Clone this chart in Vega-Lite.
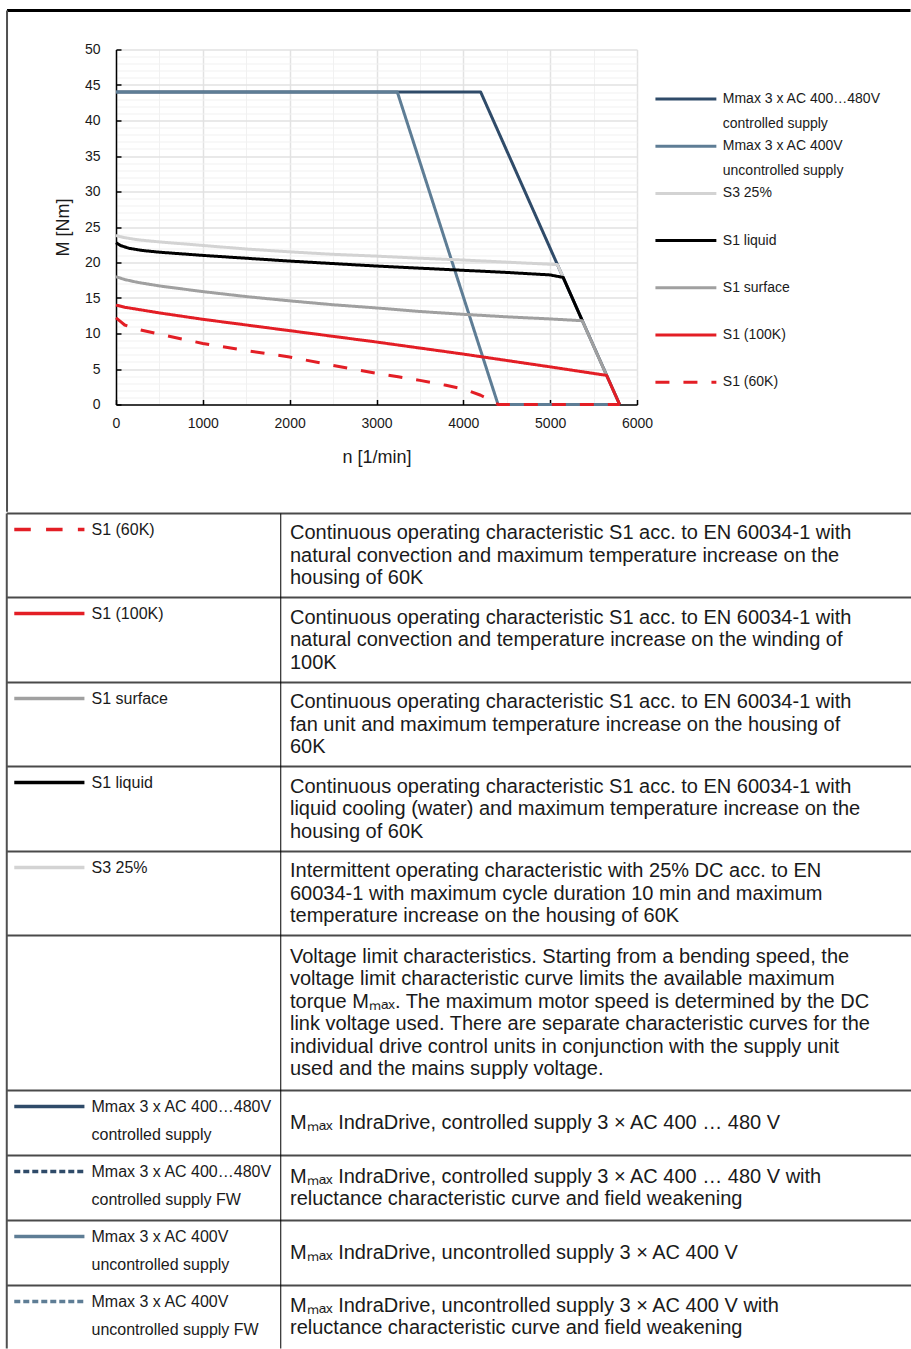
{
  "$schema": "https://vega.github.io/schema/vega-lite/v6.json",
  "padding": {"left": 5, "top": 8.5, "right": 0, "bottom": 0},
  "spacing": -3,
  "config": {
    "font": "Liberation Sans",
    "view": {"stroke": null},
    "style": {"guide-label": {"lineHeight": 25}}
  },
  "resolve": {"scale": {"x": "independent", "y": "independent", "color": "independent", "strokeDash": "independent"}},
  "vconcat": [
    {
      "width": 521,
      "height": 355,
      "data": {"values": [
        {"series": "Mmax 3 x AC 400…480V|controlled supply", "n": 0, "M": 44},
        {"series": "Mmax 3 x AC 400…480V|controlled supply", "n": 4200, "M": 44},
        {"series": "Mmax 3 x AC 400…480V|controlled supply", "n": 5800, "M": 0},
        {"series": "Mmax 3 x AC 400V|uncontrolled supply", "n": 0, "M": 44},
        {"series": "Mmax 3 x AC 400V|uncontrolled supply", "n": 3240, "M": 44},
        {"series": "Mmax 3 x AC 400V|uncontrolled supply", "n": 4400, "M": 0},
        {"series": "Mmax 3 x AC 400V|uncontrolled supply", "n": 5800, "M": 0},
        {"series": "S3 25%", "n": 0, "M": 23.8},
        {"series": "S3 25%", "n": 100, "M": 23.5},
        {"series": "S3 25%", "n": 250, "M": 23.2},
        {"series": "S3 25%", "n": 500, "M": 22.9},
        {"series": "S3 25%", "n": 1000, "M": 22.4},
        {"series": "S3 25%", "n": 1500, "M": 21.9},
        {"series": "S3 25%", "n": 2000, "M": 21.5},
        {"series": "S3 25%", "n": 2500, "M": 21.15},
        {"series": "S3 25%", "n": 3000, "M": 20.9},
        {"series": "S3 25%", "n": 3500, "M": 20.6},
        {"series": "S3 25%", "n": 4000, "M": 20.35},
        {"series": "S3 25%", "n": 4500, "M": 20.05},
        {"series": "S3 25%", "n": 5084, "M": 19.7},
        {"series": "S3 25%", "n": 5150, "M": 17.9},
        {"series": "S1 liquid", "n": 0, "M": 22.8},
        {"series": "S1 liquid", "n": 50, "M": 22.4},
        {"series": "S1 liquid", "n": 150, "M": 22.0},
        {"series": "S1 liquid", "n": 300, "M": 21.7},
        {"series": "S1 liquid", "n": 500, "M": 21.45},
        {"series": "S1 liquid", "n": 1000, "M": 21.0},
        {"series": "S1 liquid", "n": 1500, "M": 20.6},
        {"series": "S1 liquid", "n": 2000, "M": 20.2},
        {"series": "S1 liquid", "n": 2500, "M": 19.85},
        {"series": "S1 liquid", "n": 3000, "M": 19.5},
        {"series": "S1 liquid", "n": 3500, "M": 19.2},
        {"series": "S1 liquid", "n": 4000, "M": 18.9},
        {"series": "S1 liquid", "n": 4500, "M": 18.6},
        {"series": "S1 liquid", "n": 5000, "M": 18.25},
        {"series": "S1 liquid", "n": 5150, "M": 17.9},
        {"series": "S1 liquid", "n": 5370, "M": 11.8},
        {"series": "S1 surface", "n": 0, "M": 18.0},
        {"series": "S1 surface", "n": 100, "M": 17.6},
        {"series": "S1 surface", "n": 250, "M": 17.2},
        {"series": "S1 surface", "n": 500, "M": 16.7},
        {"series": "S1 surface", "n": 1000, "M": 15.9},
        {"series": "S1 surface", "n": 1500, "M": 15.2},
        {"series": "S1 surface", "n": 2000, "M": 14.6},
        {"series": "S1 surface", "n": 2500, "M": 14.05},
        {"series": "S1 surface", "n": 3000, "M": 13.6},
        {"series": "S1 surface", "n": 3500, "M": 13.1},
        {"series": "S1 surface", "n": 4000, "M": 12.7},
        {"series": "S1 surface", "n": 4500, "M": 12.35},
        {"series": "S1 surface", "n": 5000, "M": 12.05},
        {"series": "S1 surface", "n": 5370, "M": 11.8},
        {"series": "S1 surface", "n": 5650, "M": 4.1},
        {"series": "S1 (100K)", "n": 0, "M": 14.0},
        {"series": "S1 (100K)", "n": 100, "M": 13.7},
        {"series": "S1 (100K)", "n": 250, "M": 13.4},
        {"series": "S1 (100K)", "n": 500, "M": 12.9},
        {"series": "S1 (100K)", "n": 1000, "M": 12.0},
        {"series": "S1 (100K)", "n": 1500, "M": 11.2},
        {"series": "S1 (100K)", "n": 2000, "M": 10.4},
        {"series": "S1 (100K)", "n": 2500, "M": 9.6},
        {"series": "S1 (100K)", "n": 3000, "M": 8.8},
        {"series": "S1 (100K)", "n": 3500, "M": 7.95},
        {"series": "S1 (100K)", "n": 4000, "M": 7.1},
        {"series": "S1 (100K)", "n": 4500, "M": 6.2},
        {"series": "S1 (100K)", "n": 5000, "M": 5.3},
        {"series": "S1 (100K)", "n": 5650, "M": 4.1},
        {"series": "S1 (100K)", "n": 5800, "M": 0},
        {"series": "S1 (60K)", "n": 0, "M": 12.2},
        {"series": "S1 (60K)", "n": 50, "M": 11.7},
        {"series": "S1 (60K)", "n": 100, "M": 11.2},
        {"series": "S1 (60K)", "n": 250, "M": 10.6},
        {"series": "S1 (60K)", "n": 500, "M": 9.9},
        {"series": "S1 (60K)", "n": 1000, "M": 8.6},
        {"series": "S1 (60K)", "n": 1500, "M": 7.6},
        {"series": "S1 (60K)", "n": 2000, "M": 6.7},
        {"series": "S1 (60K)", "n": 2500, "M": 5.5},
        {"series": "S1 (60K)", "n": 3000, "M": 4.4},
        {"series": "S1 (60K)", "n": 3250, "M": 3.9},
        {"series": "S1 (60K)", "n": 3500, "M": 3.4},
        {"series": "S1 (60K)", "n": 3800, "M": 2.7},
        {"series": "S1 (60K)", "n": 4000, "M": 2.2},
        {"series": "S1 (60K)", "n": 4200, "M": 1.3},
        {"series": "S1 (60K)", "n": 4300, "M": 0.7},
        {"series": "S1 (60K)", "n": 4400, "M": 0},
        {"series": "S1 (60K)", "n": 5800, "M": 0}
      ]},
      "resolve": {"axis": {"x": "independent", "y": "independent"}},
      "layer": [
        {
          "data": {"values": [{}]},
          "mark": {"type": "rule", "stroke": "#000000", "strokeWidth": 3},
          "encoding": {
            "x": {"datum": -1255, "type": "quantitative",
                  "scale": {"domain": [0, 6000], "nice": false, "zero": false},
                  "axis": {"orient": "bottom", "values": [500, 1500, 2500, 3500, 4500, 5500], "grid": true, "gridColor": "#f1f1f1", "gridWidth": 1, "labels": false, "ticks": false, "domain": false, "title": null}},
            "x2": {"datum": 9150},
            "y": {"datum": 55.5, "type": "quantitative",
                  "scale": {"domain": [0, 50], "nice": false, "zero": false},
                  "axis": {"orient": "left", "values": [1,2,3,4,6,7,8,9,11,12,13,14,16,17,18,19,21,22,23,24,26,27,28,29,31,32,33,34,36,37,38,39,41,42,43,44,46,47,48,49], "grid": true, "gridColor": "#f1f1f1", "gridWidth": 1, "labels": false, "ticks": false, "domain": false, "title": null}}
          }
        },
        {
          "data": {"values": [{}]},
          "mark": {"type": "rule", "stroke": "#505050", "strokeWidth": 2},
          "encoding": {
            "x": {"datum": -1255, "type": "quantitative", "scale": {"domain": [0, 6000], "nice": false, "zero": false}, "axis": null},
            "y": {"datum": 55.5, "type": "quantitative", "scale": {"domain": [0, 50], "nice": false, "zero": false}, "axis": null},
            "y2": {"datum": -15.1}
          }
        },
        {
          "mark": {"type": "line", "strokeWidth": 3, "strokeCap": "butt", "strokeJoin": "round"},
          "encoding": {
            "x": {"field": "n", "type": "quantitative",
                  "scale": {"domain": [0, 6000], "nice": false, "zero": false},
                  "axis": {"orient": "bottom", "values": [0, 1000, 2000, 3000, 4000, 5000, 6000], "format": "d", "labelFlush": false, "grid": true, "gridColor": "#e2e2e2", "gridWidth": 1.5,
                           "domainColor": "#000000", "domainWidth": 1.5, "tickColor": "#000000", "tickSize": -5, "tickWidth": 1.5,
                           "labelFontSize": 14, "labelColor": "#1a1a1a", "labelPadding": 17,
                           "title": "n [1/min]", "titleFontSize": 18, "titleFontWeight": "normal", "titleColor": "#1a1a1a", "titlePadding": 18}},
            "y": {"field": "M", "type": "quantitative",
                  "scale": {"domain": [0, 50], "nice": false, "zero": false},
                  "axis": {"orient": "left", "values": [0, 5, 10, 15, 20, 25, 30, 35, 40, 45, 50], "format": "d", "labelFlush": false, "grid": true, "gridColor": "#e2e2e2", "gridWidth": 1.5,
                           "domainColor": "#000000", "domainWidth": 1.5, "tickColor": "#000000", "tickSize": -5, "tickWidth": 1.5,
                           "labelFontSize": 14, "labelColor": "#1a1a1a", "labelPadding": 21,
                           "title": "M [Nm]", "titleFontSize": 18, "titleFontWeight": "normal", "titleColor": "#1a1a1a", "titlePadding": 12}},
            "color": {"field": "series", "type": "nominal",
                      "scale": {"domain": ["Mmax 3 x AC 400…480V|controlled supply", "Mmax 3 x AC 400V|uncontrolled supply", "S3 25%", "S1 liquid", "S1 surface", "S1 (100K)", "S1 (60K)"],
                                "range": ["#2f4b69", "#5e7d95", "#d3d3d3", "#000000", "#a0a0a0", "#e31e25", "#e31e25"]},
                      "legend": {"orient": "none", "legendX": 560.4, "legendY": 40, "title": null, "padding": 0,
                                 "symbolType": "M-4,0H4", "symbolSize": 232, "symbolStrokeWidth": 3,
                                 "labelFontSize": 14, "labelColor": "#1a1a1a", "labelOffset": 27.4, "labelLimit": 400,
                                 "gridAlign": "all", "rowPadding": 5.2, "labelExpr": "split(datum.label, '|')"}},
            "strokeDash": {"field": "series", "type": "nominal",
                      "scale": {"domain": ["Mmax 3 x AC 400…480V|controlled supply", "Mmax 3 x AC 400V|uncontrolled supply", "S3 25%", "S1 liquid", "S1 surface", "S1 (100K)", "S1 (60K)"],
                                "range": [[1, 0], [1, 0], [1, 0], [1, 0], [1, 0], [1, 0], [14, 14]]},
                      "legend": {"orient": "none", "legendX": 560.4, "legendY": 40, "title": null, "padding": 0,
                                 "symbolType": "M-4,0H4", "symbolSize": 232, "symbolStrokeWidth": 3,
                                 "labelFontSize": 14, "labelColor": "#1a1a1a", "labelOffset": 27.4, "labelLimit": 400,
                                 "gridAlign": "all", "rowPadding": 5.2, "labelExpr": "split(datum.label, '|')"}}
          }
        }
      ]
    },
    {
      "width": 795,
      "height": 835,
      "data": {"values": [
        {"row": 1, "start": 0, "end": 8.4, "sym": "S1 (60K)", "label": "S1 (60K)", "desc": "Continuous operating characteristic S1 acc. to EN 60034-1 with\nnatural convection and maximum temperature increase on the\nhousing of 60K"},
        {"row": 2, "start": 8.4, "end": 16.9, "sym": "S1 (100K)", "label": "S1 (100K)", "desc": "Continuous operating characteristic S1 acc. to EN 60034-1 with\nnatural convection and temperature increase on the winding of\n100K"},
        {"row": 3, "start": 16.9, "end": 25.3, "sym": "S1 surface", "label": "S1 surface", "desc": "Continuous operating characteristic S1 acc. to EN 60034-1 with\nfan unit and maximum temperature increase on the housing of\n60K"},
        {"row": 4, "start": 25.3, "end": 33.8, "sym": "S1 liquid", "label": "S1 liquid", "desc": "Continuous operating characteristic S1 acc. to EN 60034-1 with\nliquid cooling (water) and maximum temperature increase on the\nhousing of 60K"},
        {"row": 5, "start": 33.8, "end": 42.2, "sym": "S3 25%", "label": "S3 25%", "desc": "Intermittent operating characteristic with 25% DC acc. to EN\n60034-1 with maximum cycle duration 10 min and maximum\ntemperature increase on the housing of 60K"},
        {"row": 6, "start": 42.2, "end": 57.7, "sym": null, "label": "", "desc": "Voltage limit characteristics. Starting from a bending speed, the\nvoltage limit characteristic curve limits the available maximum\ntorque Mₘₐₓ. The maximum motor speed is determined by the DC\nlink voltage used. There are separate characteristic curves for the\nindividual drive control units in conjunction with the supply unit\nused and the mains supply voltage."},
        {"row": 7, "start": 57.7, "end": 64.2, "sym": "ctrl", "label": "Mmax 3 x AC 400…480V\ncontrolled supply", "desc": "Mₘₐₓ IndraDrive, controlled supply 3 × AC 400 … 480 V"},
        {"row": 8, "start": 64.2, "end": 70.7, "sym": "ctrl FW", "label": "Mmax 3 x AC 400…480V\ncontrolled supply FW", "desc": "Mₘₐₓ IndraDrive, controlled supply 3 × AC 400 … 480 V with\nreluctance characteristic curve and field weakening"},
        {"row": 9, "start": 70.7, "end": 77.2, "sym": "unctrl", "label": "Mmax 3 x AC 400V\nuncontrolled supply", "desc": "Mₘₐₓ IndraDrive, uncontrolled supply 3 × AC 400 V"},
        {"row": 10, "start": 77.2, "end": 83.5, "sym": "unctrl FW", "label": "Mmax 3 x AC 400V\nuncontrolled supply FW", "desc": "Mₘₐₓ IndraDrive, uncontrolled supply 3 × AC 400 V with\nreluctance characteristic curve and field weakening"}
      ]},
      "transform": [{"calculate": "(datum.start + datum.end) / 2 - (length(split(datum.desc, '\\n')) - 1) * 1.125", "as": "textTop"}],
      "layer": [
        {
          "mark": {"type": "rule", "stroke": "#4a4a4a", "strokeWidth": 2},
          "encoding": {
            "x": {"datum": 0, "type": "quantitative", "scale": {"domain": [12.08, 100], "nice": false, "zero": false}, "axis": null},
            "x2": {"datum": 100},
            "y": {"field": "start", "type": "quantitative", "scale": {"domain": [0, 83.5], "reverse": true, "nice": false, "zero": false}, "axis": null}
          }
        },
        {
          "data": {"values": [{}]},
          "mark": {"type": "rule", "stroke": "#505050", "strokeWidth": 2},
          "encoding": {
            "x": {"datum": 0, "type": "quantitative", "scale": {"domain": [12.08, 100], "nice": false, "zero": false}, "axis": null},
            "y": {"datum": 0, "type": "quantitative", "scale": {"domain": [0, 83.5], "reverse": true, "nice": false, "zero": false}, "axis": null},
            "y2": {"datum": 83.5}
          }
        },
        {
          "data": {"values": [{}]},
          "mark": {"type": "rule", "stroke": "#000000", "strokeWidth": 1},
          "encoding": {
            "x": {"datum": 30.3, "type": "quantitative", "scale": {"domain": [12.08, 100], "nice": false, "zero": false}, "axis": null},
            "y": {"datum": 0, "type": "quantitative", "scale": {"domain": [0, 83.5], "reverse": true, "nice": false, "zero": false}, "axis": null},
            "y2": {"datum": 83.5}
          }
        },
        {
          "transform": [{"filter": "datum.sym != null"}],
          "mark": {"type": "rule", "strokeWidth": 3.5, "yOffset": 16},
          "encoding": {
            "x": {"datum": 0.83, "type": "quantitative", "scale": {"domain": [12.08, 100], "nice": false, "zero": false}, "axis": null},
            "x2": {"datum": 8.59},
            "y": {"field": "start", "type": "quantitative", "scale": {"domain": [0, 83.5], "reverse": true, "nice": false, "zero": false}, "axis": null},
            "color": {"field": "sym", "type": "nominal", "legend": null,
                      "scale": {"domain": ["S1 (60K)", "S1 (100K)", "S1 surface", "S1 liquid", "S3 25%", "ctrl", "ctrl FW", "unctrl", "unctrl FW"],
                                "range": ["#e31e25", "#e31e25", "#a0a0a0", "#000000", "#d3d3d3", "#2f4b69", "#2f4b69", "#5e7d95", "#5e7d95"]}},
            "strokeDash": {"field": "sym", "type": "nominal", "legend": null,
                      "scale": {"domain": ["S1 (60K)", "S1 (100K)", "S1 surface", "S1 liquid", "S3 25%", "ctrl", "ctrl FW", "unctrl", "unctrl FW"],
                                "range": [[16.5, 15.3], [1, 0], [1, 0], [1, 0], [1, 0], [1, 0], [6, 3], [1, 0], [6, 3]]}}
          }
        },
        {
          "mark": {"type": "text", "align": "left", "baseline": "middle", "fontSize": 16, "lineHeight": 28, "lineBreak": "\n", "yOffset": 16, "color": "#1a1a1a"},
          "encoding": {
            "x": {"datum": 9.37, "type": "quantitative", "scale": {"domain": [12.08, 100], "nice": false, "zero": false}, "axis": null},
            "y": {"field": "start", "type": "quantitative", "scale": {"domain": [0, 83.5], "reverse": true, "nice": false, "zero": false}, "axis": null},
            "text": {"field": "label"}
          }
        },
        {
          "mark": {"type": "text", "align": "left", "baseline": "middle", "fontSize": 20, "lineHeight": 22.5, "lineBreak": "\n", "font": "Liberation Sans", "color": "#1a1a1a"},
          "encoding": {
            "x": {"datum": 31.32, "type": "quantitative", "scale": {"domain": [12.08, 100], "nice": false, "zero": false}, "axis": null},
            "y": {"field": "textTop", "type": "quantitative", "scale": {"domain": [0, 83.5], "reverse": true, "nice": false, "zero": false}, "axis": null},
            "text": {"field": "desc"}
          }
        }
      ]
    }
  ]
}
